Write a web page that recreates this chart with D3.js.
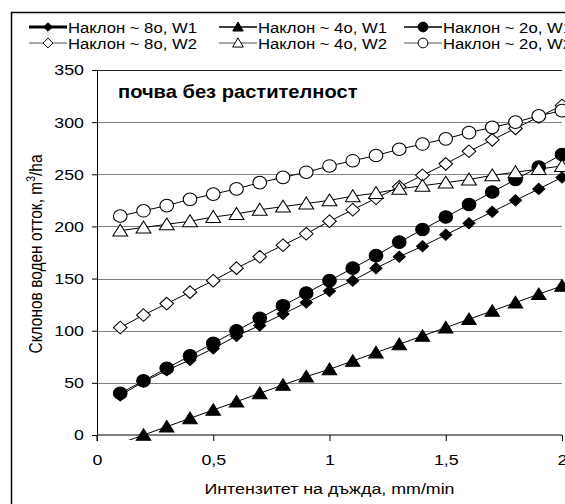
<!DOCTYPE html>
<html><head><meta charset="utf-8">
<script src="https://cdn.jsdelivr.net/npm/d3@7"></script>
<style>body{margin:0;background:#fff}svg{display:block;font-family:"Liberation Sans",Arial,sans-serif}</style>
</head><body><svg id="c" width="565" height="504"></svg>
<script>
const xValues = [0.1,0.2,0.3,0.4,0.5,0.6,0.7,0.8,0.9,1.0,1.1,1.2,1.3,1.4,1.5,1.6,1.7,1.8,1.9,2.0];
const slope8W1 = [38,51,62,72,83,95,105,116,127,138,148,160,171,181,192,203,214,225,236,247];
const slope4W1 = [-8,0,8,16,24,32,40,48,56,63,71,79,87,95,103,111,119,127,135,143];
const slope2W1 = [40,52,64,76,88,100,112,124,136,148,160,172,185,197,209,221,233,245,257,269];
const slope8W2 = [103,115,126,137,148,160,171,182,193,205,216,227,238,249,260,272,283,294,305,316];
const slope4W2 = [196,199,202,205,209,212,216,219,222,225,229,232,236,239,242,245,249,252,255,258];
const slope2W2 = [210,215,220,226,231,236,242,247,252,258,263,268,274,279,284,290,295,300,306,311];
const seriesNames = ["Наклон ~ 8o, W1","Наклон ~ 4o, W1","Наклон ~ 2o, W1","Наклон ~ 8o, W2","Наклон ~ 4o, W2","Наклон ~ 2o, W2"];
const xTicks = [0,0.5,1,1.5,2];
const yTicks = [0,50,100,150,200,250,300,350];

const SX = 1.15; // horizontal stretch of the original figure's text
const diamond = {draw(ctx,size){const r=Math.sqrt(size/2);ctx.moveTo(0,-r);ctx.lineTo(r,0);ctx.lineTo(0,r);ctx.lineTo(-r,0);ctx.closePath();}};

const series = [
  {name:seriesNames[0], vals:slope8W1, sym:diamond, fill:"#000", size:62, lw:2.8, lc:"#000"},
  {name:seriesNames[1], vals:slope4W1, sym:d3.symbolTriangle, fill:"#000", size:78, lw:1.5, lc:"#000"},
  {name:seriesNames[2], vals:slope2W1, sym:d3.symbolCircle, fill:"#000", size:125, lw:1.5, lc:"#000"},
  {name:seriesNames[3], vals:slope8W2, sym:diamond, fill:"#fff", size:80, lw:1, lc:"#555"},
  {name:seriesNames[4], vals:slope4W2, sym:d3.symbolTriangle, fill:"#fff", size:82, lw:1, lc:"#555"},
  {name:seriesNames[5], vals:slope2W2, sym:d3.symbolCircle, fill:"#fff", size:125, lw:1, lc:"#555"}
];

const svg = d3.select("#c");
const x = d3.scaleLinear().domain([0,2]).range([97,562]);
const y = d3.scaleLinear().domain([0,350]).range([435,70]);

// outer frame
svg.append("rect").attr("x",11.5).attr("y",12.5).attr("width",600).attr("height",600)
  .attr("fill","none").attr("stroke","#000").attr("stroke-width",1.5);

// gridlines
svg.append("g").selectAll("line").data(yTicks.filter(d=>d>0)).join("line")
  .attr("x1",x(0)).attr("x2",x(2)).attr("y1",d=>Math.round(y(d))+0.5).attr("y2",d=>Math.round(y(d))+0.5)
  .attr("stroke",d=>d===350?"#222":"#808080").attr("stroke-width",1.2);

// y axis
const ya = svg.append("g").attr("transform",`translate(${x(0)},0)`)
  .call(d3.axisLeft(y).tickValues(yTicks).tickSize(5).tickPadding(8).tickFormat(d3.format("d")));
ya.select(".domain").attr("stroke","#000");
ya.selectAll("text").attr("font-size",15.5).attr("fill","#000")
  .attr("x",-13/SX).attr("transform",`scale(${SX},1)`);
// x axis
const xa = svg.append("g").attr("transform",`translate(0,${y(0)})`)
  .call(d3.axisBottom(x).tickValues(xTicks).tickSize(6).tickPadding(13).tickFormat(d=>String(d).replace(".",",")));
xa.select(".domain").attr("stroke","#000").attr("d",`M${x(0)},6V0H${x(2)}`);
xa.selectAll("text").attr("font-size",15.5).attr("fill","#000").attr("transform",`scale(${SX},1)`);

// clip
svg.append("clipPath").attr("id","clip").append("rect").attr("x",x(0)).attr("y",60).attr("width",x(2)-x(0)+10).attr("height",y(0)-60+5);

const line = d3.line().x((d,i)=>x(xValues[i])).y(d=>y(d));
const g = svg.append("g").attr("clip-path","url(#clip)");
series.forEach(s=>{
  g.append("path").attr("d",line(s.vals)).attr("fill","none").attr("stroke","#000").attr("stroke-width",1);
});
const mg = svg.append("g");
series.forEach(s=>{
  mg.selectAll(null).data(s.vals.map((v,i)=>({v,i})).filter(d=>d.v>=0)).join("path")
    .attr("d",d3.symbol().type(s.sym).size(s.size))
    .attr("transform",d=>{
      const dy = s.sym===d3.symbolTriangle ? 1.5 : 0;
      return `translate(${x(xValues[d.i])},${y(d.v)+dy}) scale(1.08,1)`;})
    .attr("fill",s.fill).attr("stroke","#000").attr("stroke-width",1);
});

// annotation
svg.append("text").attr("transform",`translate(118,98) scale(${SX},1)`).attr("font-size",17.5).attr("font-weight","bold").text("почва без растителност");

// axis titles
svg.append("text").attr("transform",`translate(${x(1)},494) scale(${SX},1)`).attr("text-anchor","middle").attr("font-size",15.5).text("Интензитет на дъжда, mm/min");
const yt = svg.append("text").attr("transform",`translate(42,254) scale(${SX},1) rotate(-90)`).attr("text-anchor","middle").attr("font-size",15.5);
yt.append("tspan").text("Склонов воден отток, m");
yt.append("tspan").attr("dy",-6).attr("font-size",10.5).text("3");
yt.append("tspan").attr("dy",6).text("/ha");

// legend
const cols = [29,219,404];
const rows = [27,43];
series.forEach((s,k)=>{
  const cx = cols[k%3], cy = rows[Math.floor(k/3)];
  const lg = svg.append("g").attr("transform",`translate(${cx},${cy})`);
  lg.append("line").attr("x1",0).attr("x2",38).attr("y1",0).attr("y2",0).attr("stroke",s.lc).attr("stroke-width",s.lw);
  lg.append("path").attr("d",d3.symbol().type(s.sym).size(s.size*0.6)).attr("transform",`translate(19,${s.sym===d3.symbolTriangle?1:0})`)
    .attr("fill",s.fill).attr("stroke","#000").attr("stroke-width",1);
  lg.append("text").attr("transform",`translate(39,5.5) scale(${SX},1)`).attr("font-size",14.5).text(s.name);
});
</script></body></html>
